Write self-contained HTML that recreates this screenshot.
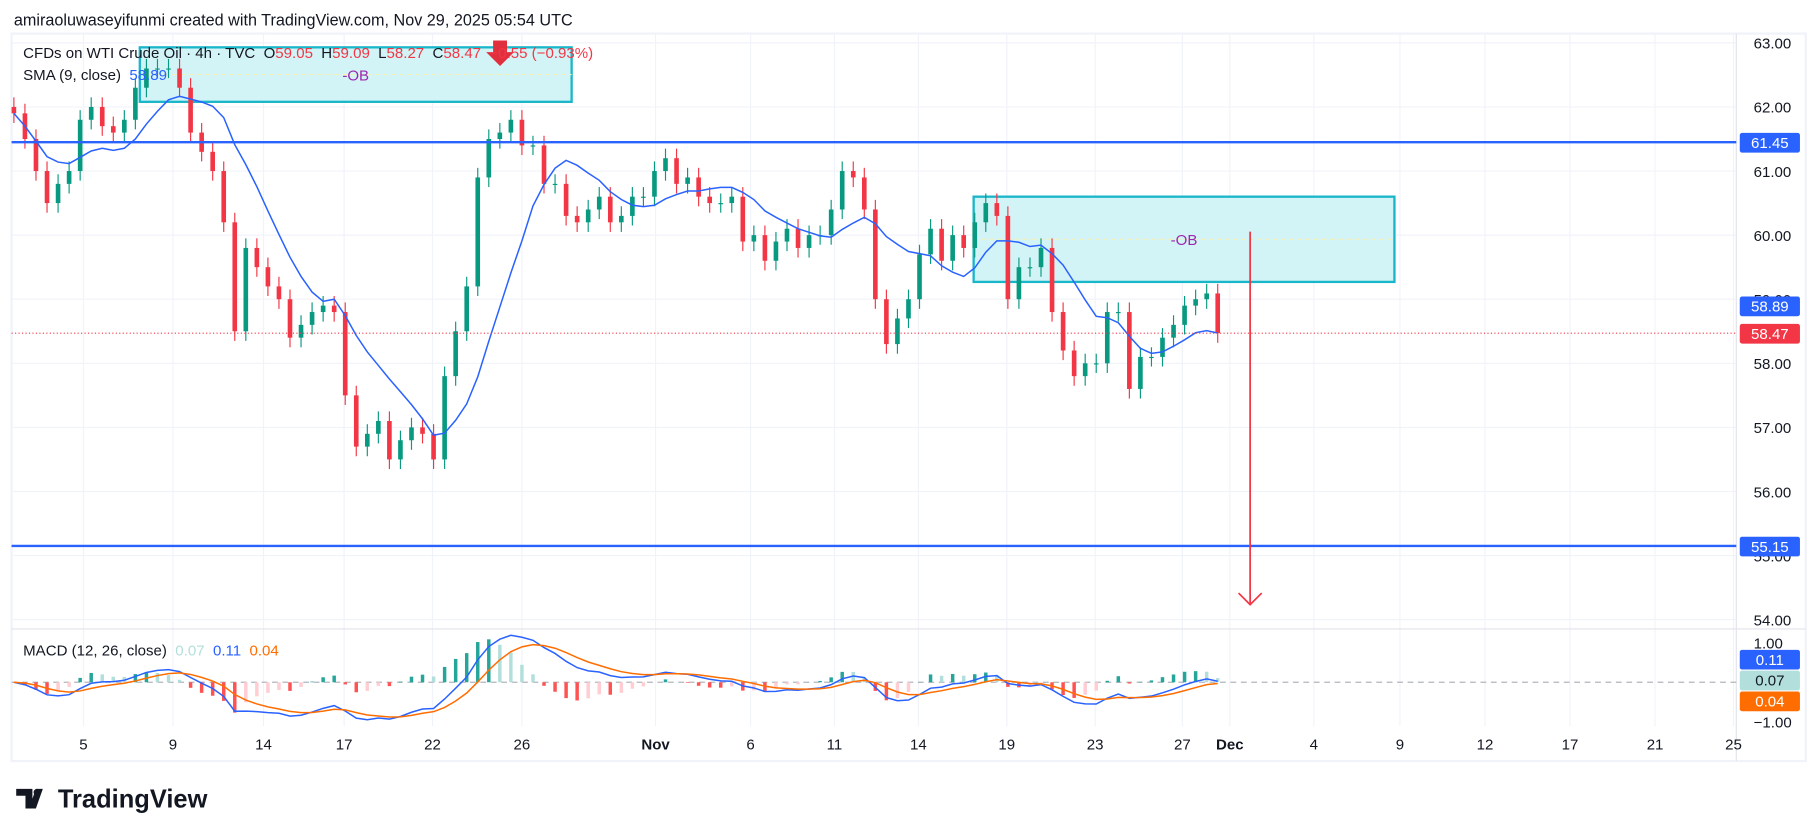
<!DOCTYPE html>
<html><head><meta charset="utf-8"><style>
html,body{margin:0;padding:0;background:#fff;width:1815px;height:834px;overflow:hidden}
svg{display:block;font-family:"Liberation Sans",sans-serif}
</style></head><body>
<svg id="chart" width="1815" height="834" viewBox="0 0 1568 720" preserveAspectRatio="none" xmlns="http://www.w3.org/2000/svg">
<rect x="0" y="0" width="1568" height="720" fill="#fff"/>
<text x="12" y="22" font-size="14" fill="#131722">amiraoluwaseyifunmi created with TradingView.com, Nov 29, 2025 05:54 UTC</text>
<rect x="10" y="29" width="1550" height="628" fill="none" stroke="#f0f3fa" stroke-width="2"/>
<g id="grid"></g>
<line x1="1500" y1="29" x2="1500" y2="657" stroke="#e0e3eb"/>
<line x1="10" y1="543" x2="1560" y2="543" stroke="#e0e3eb"/>
<g id="obs"></g>
<g id="candles"></g>
<g id="sma"></g>
<g id="macd"></g>
<g id="overlay"></g>
<g id="axes"></g>
<text x="20" y="50" font-size="13" fill="#131722" xml:space="preserve">CFDs on WTI Crude Oil · 4h · TVC  O<tspan fill="#f23645">59.05</tspan>  H<tspan fill="#f23645">59.09</tspan>  L<tspan fill="#f23645">58.27</tspan>  C<tspan fill="#f23645">58.47</tspan>  <tspan fill="#f23645">−0.55 (−0.93%)</tspan></text>
<text x="20" y="69" font-size="13" fill="#131722" xml:space="preserve">SMA (9, close)  <tspan fill="#2962ff">58.89</tspan></text>
<text x="20" y="566" font-size="13" fill="#131722" xml:space="preserve">MACD (12, 26, close)  <tspan fill="#b2dfdb">0.07</tspan>  <tspan fill="#2962ff">0.11</tspan>  <tspan fill="#ff6d00">0.04</tspan></text>
<g>
<path d="M14 681h14v17h-6v-11h-8z M31 681h6l-6 17h-6z" fill="#131722"/>
<circle cx="32" cy="684" r="3" fill="#131722"/>
<text x="50" y="697" font-size="22" font-weight="bold" fill="#131722">TradingView</text>
</g>
</svg>
<script>
const closes=[61.9,61.5,61.0,60.5,60.8,61.0,61.8,62.0,61.7,61.6,61.8,62.3,62.6,62.6,62.6,62.3,61.6,61.3,61.0,60.2,58.5,59.8,59.5,59.2,59.0,58.4,58.6,58.8,58.9,58.8,57.5,56.7,56.9,57.1,56.5,56.8,57.0,56.9,56.5,57.8,58.5,59.2,60.9,61.5,61.6,61.8,61.4,61.4,60.8,60.8,60.3,60.2,60.4,60.6,60.2,60.3,60.6,60.6,61.0,61.2,60.8,60.9,60.6,60.5,60.5,60.6,59.9,60.0,59.6,59.9,60.1,59.8,60.0,60.0,60.4,61.0,60.9,60.4,59.0,58.3,58.7,59.0,59.7,60.1,59.6,60.0,59.8,60.2,60.5,60.3,59.0,59.5,59.5,59.8,58.8,58.2,57.8,58.0,58.0,58.8,58.8,57.6,58.1,58.1,58.4,58.6,58.9,59.0,59.09,58.47];
const priceTicks=[63,62,61,60,59,58,57,56,55,54];
const macdTicks=[1,-1];
const timeLabels=["5","9","14","17","22","26","Nov","6","11","14","19","23","27","Dec","4","9","12","17","21","25"];
const timeLabelBar=[6.3,14.4,22.6,29.9,37.9,46.0,58.1,66.7,74.3,81.9,89.9,97.9,105.8,110.1,117.7,125.5,133.2,140.9,148.6,155.7];
const levels=[61.45,55.15];
const obZones=[{b0:11.4,b1:50.5,top:62.93,bot:62.08},{b0:86.9,b1:125,top:60.6,bot:59.27}];

const NS="http://www.w3.org/2000/svg";
const X0=12,DX=(1052-12)/(closes.length-1);
const xs=i=>X0+i*DX;
const ys=p=>37+(63-p)*55.33;
const ym=v=>589-v*34;
function mk(tag,attrs,parent,txt){const e=document.createElementNS(NS,tag);for(const k in attrs)e.setAttribute(k,attrs[k]);if(txt!==undefined)e.textContent=txt;document.getElementById(parent).appendChild(e);return e;}

priceTicks.forEach(p=>{
  const g=mk('line',{x1:10,x2:1500,y1:ys(p),y2:ys(p),stroke:'#f0f3fa'},'grid');
  
  
  const t=mk('text',{x:1515,y:ys(p)+5,'font-size':13,fill:'#131722'},'axes',p.toFixed(2));
  
  
});
macdTicks.forEach(v=>{
  const t=mk('text',{x:1515,y:ym(v)+5,'font-size':13,fill:'#131722'},'axes',(v<0?'−':'')+Math.abs(v).toFixed(2));
  
  
});
timeLabels.forEach((l,i)=>{
  const x=xs(timeLabelBar[i]);
  const g=mk('line',{x1:x,x2:x,y1:29,y2:627,stroke:'#f0f3fa'},'grid');
  
  
  const t=mk('text',{x:x,y:647,'font-size':13,fill:'#131722','text-anchor':'middle','font-weight':l.length>2?'bold':'normal'},'axes',l);
  
  
});

obZones.forEach(z=>{
  const x1=xs(z.b0),x2=xs(z.b1),y1=ys(z.top),y2=ys(z.bot);
  const r=mk('rect',{x:x1,y:y1,width:x2-x1,height:y2-y1,fill:'#d3f4f7',stroke:'#19b6c9','stroke-width':2},'obs');
  
  
  const ym2=(y1+y2)/2;
  mk('line',{x1:x1,x2:x2,y1:ym2,y2:ym2,stroke:'#f5f0b8','stroke-dasharray':'4 3'},'obs');
  const t=mk('text',{x:(x1+x2)/2,y:ym2+5,'font-size':13,fill:'#9c27b0','text-anchor':'middle'},'obs','-OB');
  
  
});

closes.forEach((c,i)=>{
  const o=i?closes[i-1]:c+0.1;
  const up=c>=o, col=up?'#089981':'#f23645';
  const x=xs(i);
  const w=mk('line',{x1:x,x2:x,y1:ys(Math.max(o,c)+0.15),y2:ys(Math.min(o,c)-0.15),stroke:col,'stroke-width':1},'candles');
  
  
  const b=mk('rect',{x:x-2,y:ys(Math.max(o,c)),width:4,height:Math.max(1,Math.abs(ys(o)-ys(c))),fill:col},'candles');
  
  
});

let pts=[];
closes.forEach((c,i)=>{const s=closes.slice(Math.max(0,i-8),i+1);const m=s.reduce((a,b)=>a+b,0)/s.length;pts.push(xs(i)+','+ys(m));});
const sl=mk('polyline',{points:pts.join(' '),fill:'none',stroke:'#2962ff','stroke-width':1.3},'sma');



function ema(arr,n){const k=2/(n+1);let e=arr[0];return arr.map(v=>e=v*k+e*(1-k));}
const f=ema(closes,6),s2=ema(closes,13);
const macd=f.map((v,i)=>v-s2[i]);const sig=ema(macd,5);
mk('line',{x1:10,x2:1500,y1:589,y2:589,stroke:'#b2b5be','stroke-dasharray':'5 4'},'macd');
macd.forEach((m,i)=>{
  const h=m-sig[i],prev=i?macd[i-1]-sig[i-1]:0;
  const col=h>=0?(h>=prev?'#26a69a':'#b2dfdb'):(h<prev?'#ff5252':'#ffcdd2');
  const r=mk('rect',{x:xs(i)-1.5,y:Math.min(ym(h*2),589),width:3,height:Math.abs(ym(h*2)-589),fill:col},'macd');
  
  
});
const ml=mk('polyline',{points:macd.map((m,i)=>xs(i)+','+ym(m*1.1)).join(' '),fill:'none',stroke:'#2962ff','stroke-width':1.3},'macd');


const sg=mk('polyline',{points:sig.map((m,i)=>xs(i)+','+ym(m*1.1)).join(' '),fill:'none',stroke:'#ff6d00','stroke-width':1.3},'macd');



levels.forEach(l=>{
  const ln=mk('line',{x1:10,x2:1500,y1:ys(l),y2:ys(l),stroke:'#2962ff','stroke-width':2},'overlay');
  
  
});
const last=closes[closes.length-1];
mk('line',{x1:10,x2:1500,y1:ys(last),y2:ys(last),stroke:'#f23645','stroke-dasharray':'1 2'},'overlay');
mk('path',{d:'M426 35h12v10h6l-12 12l-12-12h6z',fill:'#e0303e'},'overlay');
mk('line',{x1:1080,x2:1080,y1:200,y2:522,stroke:'#f23645','stroke-width':1.5},'overlay');
mk('polyline',{points:'1070,512 1080,522 1090,512',fill:'none',stroke:'#f23645','stroke-width':1.5},'overlay');

function tag(v,y,bg,fg,name){
  const r=mk('rect',{x:1503,y:y-8,width:52,height:17,rx:2,fill:bg},'axes');
  
  
  mk('text',{x:1529,y:y+5,'font-size':13,fill:fg,'text-anchor':'middle'},'axes',v);
}
tag('61.45',ys(61.45),'#2962ff','#fff','level-label-high');
tag('58.89',264,'#2962ff','#fff','sma-label');
tag('58.47',ys(last),'#f23645','#fff','last-price-label');
tag('55.15',ys(55.15),'#2962ff','#fff','level-label-low');
tag('0.11',569,'#2962ff','#fff','macd-value-label');
tag('0.07',587,'#b2dfdb','#131722','hist-value-label');
tag('0.04',605,'#ff6d00','#fff','signal-value-label');
</script>
</body></html>
